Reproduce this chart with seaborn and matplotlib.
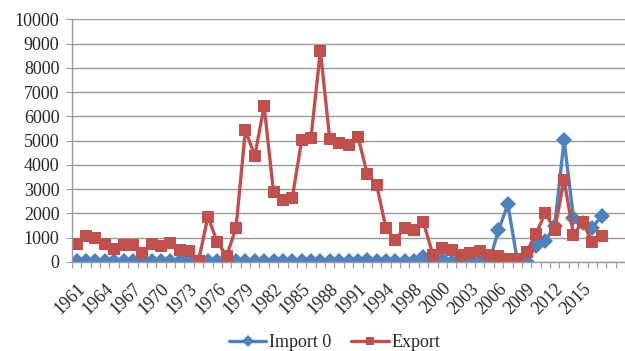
import numpy as np
import pandas as pd
import matplotlib
matplotlib.use("Agg")
import matplotlib.pyplot as plt
from matplotlib.ticker import MultipleLocator, FixedLocator
import seaborn as sns

# Category labels (one per year slot on the x axis)
years = ["1961", "1962", "1963", "1964", "1965", "1966", "1967", "1968", "1969", "1970",
         "1971", "1972", "1973", "1974", "1975", "1976", "1977", "1978", "1979", "1980",
         "1981", "1982", "1983", "1984", "1985", "1986", "1987", "1988", "1989", "1990",
         "1991", "1992", "1993", "1994", "1995", "1996", "1998", "1998", "1999", "2000",
         "2001", "2002", "2003", "2004", "2005", "2006", "2007", "2008", "2009", "2010",
         "2011", "2012", "2013", "2014", "2015", "2016", "2017"]

import_0 = [30, 30, 30, 30, 30, 30, 30, 30, 30, 30,
            30, 30, 30, 30, 30, 30, 30, 30, 30, 30,
            30, 30, 30, 30, 30, 30, 30, 30, 30, 30,
            30, 100, 30, 30, 30, 30, 30, 200, 0, 120,
            0, 20, 0, 20, 0, 1300, 2380, 80, 0, 670,
            880, 1470, 5030, 1820, 1600, 1400, 1900]

export = [730, 1060, 990, 740, 540, 680, 720, 370, 760, 660,
          780, 500, 440, 30, 1870, 820, 260, 1400, 5440, 4370,
          6430, 2880, 2560, 2640, 5010, 5120, 8710, 5060, 4900, 4830,
          5170, 3630, 3180, 1390, 890, 1420, 1300, 1630, 300, 580,
          510, 270, 350, 440, 300, 260, 120, 120, 400, 1170,
          2020, 1330, 3390, 1130, 1640, 810, 1060]

series_names = ["Import 0", "Export"]
colors = {"Import 0": "#4F81BD", "Export": "#C0504D"}
marker_map = {"Import 0": "D", "Export": "s"}

idx = np.arange(len(years))
df = pd.concat([
    pd.DataFrame({"pos": idx, "value": import_0, "series": "Import 0"}),
    pd.DataFrame({"pos": idx, "value": export, "series": "Export"}),
])

sns.set_style("white")
plt.rcParams["font.family"] = ["Liberation Serif", "DejaVu Serif"]

fig = plt.figure(figsize=(6.25, 3.51), dpi=100)
ax = fig.add_axes([0.1152, 0.2536, 0.8848, 0.6914])

sns.lineplot(data=df, x="pos", y="value", hue="series", style="series",
             hue_order=series_names, style_order=series_names,
             palette=colors, markers=marker_map, dashes=False,
             linewidth=2.4, markersize=8, markeredgewidth=0,
             ax=ax, legend=True)

ax.set_ylim(0, 10000)
ax.set_xlim(-0.5, 58.5)
ax.yaxis.set_major_locator(MultipleLocator(1000))
ax.grid(axis="y", color="#9a9a9a", linewidth=1.0)
ax.set_axisbelow(True)

label_pos = list(range(0, len(years), 3))
ax.xaxis.set_major_locator(FixedLocator(label_pos))
ax.set_xticklabels([years[i] for i in label_pos], rotation=45,
                   ha="right", rotation_mode="anchor", fontsize=13)
ax.xaxis.set_minor_locator(FixedLocator(np.arange(-0.5, 59, 1.0)))
ax.tick_params(axis="x", which="major", length=0, pad=13)
ax.tick_params(axis="x", which="minor", length=4, width=0.8,
               color="#9a9a9a", direction="out", bottom=True)
ax.tick_params(axis="y", which="major", length=4, width=0.8,
               color="#9a9a9a", direction="out", left=True, labelsize=13, pad=5)

for side in ["top", "right"]:
    ax.spines[side].set_visible(False)
for side in ["left", "bottom"]:
    ax.spines[side].set_color("#9a9a9a")
    ax.spines[side].set_linewidth(1.0)

ax.set_xlabel("")
ax.set_ylabel("")

handles, labels = ax.get_legend_handles_labels()
for h in handles:
    h.set_markersize(6)
ax.legend(handles, labels, loc="center", bbox_to_anchor=(0.475, -0.333),
          ncol=2, frameon=False, fontsize=13, handlelength=2.1,
          columnspacing=1.1, handletextpad=0.15)

fig.savefig("out.png", dpi=100)
